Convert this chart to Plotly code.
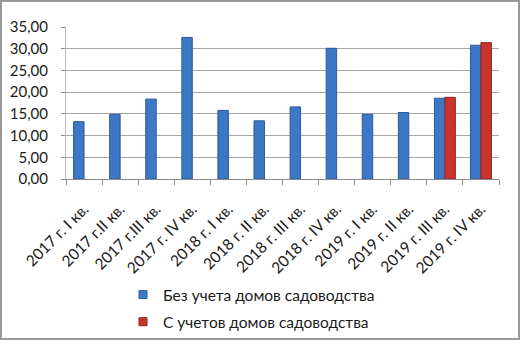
import plotly.graph_objects as go

categories = ["2017 г. I кв.", "2017 г.II кв.", "2017 г.III кв.", "2017 г. IV кв.",
              "2018 г. I кв.", "2018 г. II кв.", "2018 г. III кв.", "2018 г. IV кв.",
              "2019 г. I кв.", "2019 г. II кв.", "2019 г. III кв.", "2019 г. IV кв."]
series1_name = "Без учета домов садоводства"
series1 = [13.2, 14.9, 18.4, 32.6, 15.8, 13.4, 16.6, 30.1, 14.9, 15.3, 18.6, 30.8]
series2_name = "С учетов домов садоводства"
series2 = [None, None, None, None, None, None, None, None, None, None, 18.8, 31.4]
y_ticks = [0, 5, 10, 15, 20, 25, 30, 35]

FONT = "Lato"
W, H = 520, 340
ML, MR, MT, MB = 66, 21, 27, 161
pw, ph = W - ML - MR, H - MT - MB
BLUE, BLUE_EDGE = "#3D78C6", "#2B5A9A"
RED, RED_EDGE = "#C8352F", "#8E2420"

fig = go.Figure()
fig.add_trace(go.Bar(x=categories, y=series1, name=series1_name, showlegend=False,
                     marker=dict(color=BLUE, line=dict(color=BLUE_EDGE, width=1))))
fig.add_trace(go.Bar(x=categories, y=series2, name=series2_name, showlegend=False,
                     marker=dict(color=RED, line=dict(color=RED_EDGE, width=1))))
# legend entries with small square keys
for nm, c, e, g in [(series1_name, BLUE, BLUE_EDGE, "a"), (series2_name, RED, RED_EDGE, "b")]:
    fig.add_trace(go.Scatter(x=[None], y=[None], mode="markers", name=nm, legendgroup=g,
                             marker=dict(symbol="square", size=8, color=c,
                                         line=dict(color=e, width=1))))

# outer frame
fig.add_shape(type="rect", xref="paper", yref="paper",
              x0=(1 - ML) / pw, x1=(W - 1 - ML) / pw,
              y0=-(MB - 1) / ph, y1=(ph + MT - 1) / ph,
              line=dict(color="#9A9A9A", width=2), fillcolor="rgba(0,0,0,0)", layer="below")

fig.update_layout(
    width=W, height=H,
    margin=dict(l=ML, r=MR, t=MT, b=MB, autoexpand=False),
    paper_bgcolor="white", plot_bgcolor="white",
    barmode="group", bargap=0.42, bargroupgap=0,
    separators=", ",
    font=dict(family=FONT, size=13, color="#1A1A1A"),
    showlegend=True,
    legend=dict(orientation="v", x=(123 - ML) / pw, y=-(278 - MT - ph) / ph,
                xanchor="left", yanchor="top",
                font=dict(family=FONT, size=15.5, color="#1A1A1A"),
                tracegroupgap=4, itemwidth=30, bgcolor="rgba(0,0,0,0)"),
    xaxis=dict(type="category", tickangle=-45, tickson="boundaries", ticks="outside",
               ticklen=5, tickcolor="#8C8C8C", showline=True, linecolor="#8C8C8C",
               ticklabelstandoff=14,
               tickfont=dict(family=FONT, size=15.5), showgrid=False),
    yaxis=dict(range=[0, 35], tickvals=y_ticks, tickformat=".2f", ticks="outside",
               ticklen=4, tickcolor="#8C8C8C", showline=True, linecolor="#BDBDBD",
               showgrid=True, gridcolor="#A6A6A6", gridwidth=1, zeroline=False,
               ticklabelstandoff=10,
               tickfont=dict(family=FONT, size=15)),
)

fig.write_html("out.html", config={"displayModeBar": False},
               post_script="document.body.style.margin='0';document.body.style.overflow='hidden';")
